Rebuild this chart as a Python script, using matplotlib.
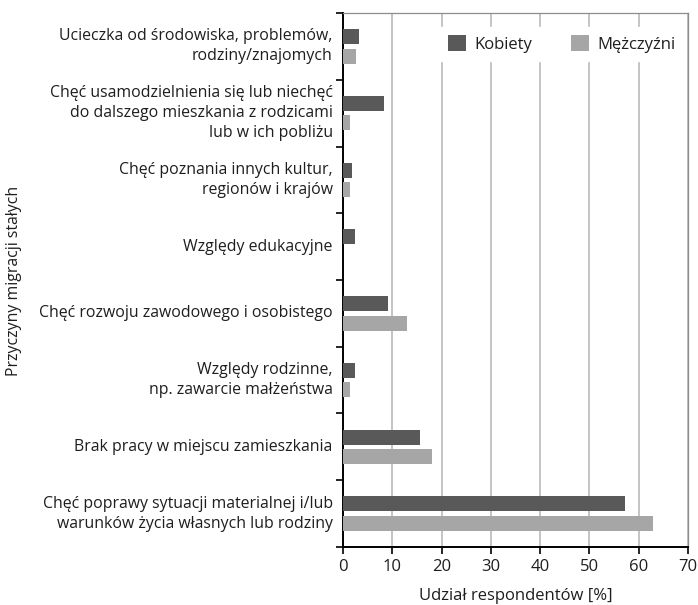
import numpy as np
import matplotlib.pyplot as plt

plt.rcParams['font.family'] = ['Open Sans', 'DejaVu Sans']

# Categories from top to bottom
categories = [
    "Ucieczka od środowiska, problemów,\nrodziny/znajomych",
    "Chęć usamodzielnienia się lub niechęć\ndo dalszego mieszkania z rodzicami\nlub w ich pobliżu",
    "Chęć poznania innych kultur,\nregionów i krajów",
    "Względy edukacyjne",
    "Chęć rozwoju zawodowego i osobistego",
    "Względy rodzinne,\nnp. zawarcie małżeństwa",
    "Brak pracy w miejscu zamieszkania",
    "Chęć poprawy sytuacji materialnej i/lub\nwarunków życia własnych lub rodziny",
]
kobiety = [3.3, 8.3, 1.8, 2.5, 9.1, 2.5, 15.6, 57.3]
mezczyzni = [2.6, 1.35, 1.35, 0.0, 12.9, 1.35, 18.0, 62.8]
xticks = [0, 10, 20, 30, 40, 50, 60, 70]

dark = '#595959'
light = '#a6a6a6'
text_col = '#1e1e1e'

fig = plt.figure(figsize=(6.98, 6.05), dpi=100)
ax = fig.add_axes([0.4914, 0.0959, 0.4943, 0.8826])

n = len(categories)
y = np.arange(n)
h = 0.225
off = 0.146
ax.barh(y - off, kobiety, height=h, color=dark, label='Kobiety', zorder=3)
ax.barh(y + off, mezczyzni, height=h, color=light, label='Mężczyźni', zorder=3)

ax.set_ylim(n - 0.5, -0.5)
ax.set_xlim(0, 70)
ax.set_xticks(xticks)
ax.set_xticklabels([str(v) for v in xticks], fontsize=12, color=text_col)
ax.set_yticks(np.arange(n + 1) - 0.5)
ax.set_yticklabels([])
ax.tick_params(axis='y', length=5, width=1.2, direction='out', color='black')
ax.tick_params(axis='x', length=5, width=1.2, direction='out', color='black', pad=4)

for i, c in enumerate(categories):
    ax.text(-0.03, i, c, transform=ax.get_yaxis_transform(), ha='right', va='center',
            fontsize=11.4, color=text_col, linespacing=1.32)

ax.grid(axis='x', color='#b4b4b4', linewidth=1.1, zorder=0)
ax.grid(axis='y', visible=False)
ax.spines['left'].set_color('black')
ax.spines['left'].set_linewidth(1.4)
ax.spines['bottom'].set_color('black')
ax.spines['bottom'].set_linewidth(1.4)
ax.spines['top'].set_color('#8c8c8c')
ax.spines['right'].set_color('#8c8c8c')
ax.spines['top'].set_linewidth(0.9)
ax.spines['right'].set_linewidth(0.9)

ax.set_xlabel('Udział respondentów [%]', fontsize=12, color=text_col, labelpad=9)
fig.text(0.02, 0.535, 'Przyczyny migracji stałych', rotation=90, ha='center', va='center',
         fontsize=11.4, color=text_col)

leg = ax.legend(loc='upper right', bbox_to_anchor=(1.012, 0.99), ncol=2, frameon=True,
                fontsize=12, handlelength=1.1, handleheight=1.1, handletextpad=0.5,
                columnspacing=2.3, borderpad=0.5, fancybox=False)
leg.get_frame().set_edgecolor('white')
leg.get_frame().set_facecolor('white')
leg.get_frame().set_alpha(1)
leg.set_zorder(5)
for t in leg.get_texts():
    t.set_color(text_col)

fig.savefig('out.png', dpi=100)
